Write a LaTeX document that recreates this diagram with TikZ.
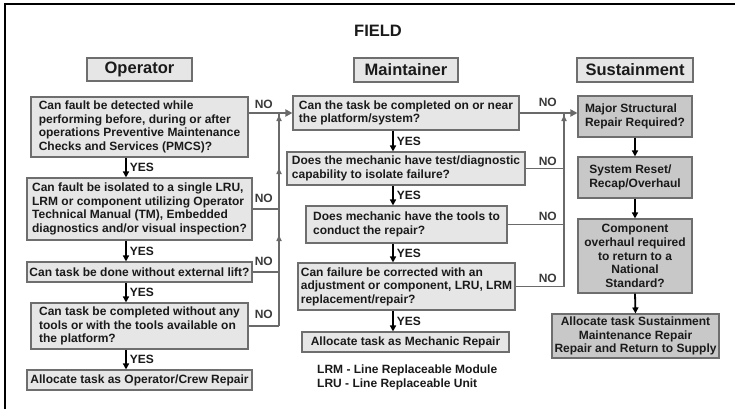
\documentclass[tikz,border=0pt]{standalone}
\usepackage{fontspec}
\setmainfont{Liberation Sans}
\usetikzlibrary{arrows.meta,decorations.markings}

\definecolor{boxline}{HTML}{6E6E6E}
\definecolor{lightfill}{HTML}{E6E6E6}
\definecolor{darkfill}{HTML}{C8C8C8}
\definecolor{wirecol}{HTML}{6A6A6A}
\definecolor{ink}{HTML}{1A1A1A}
\definecolor{noink}{HTML}{3A3A3A}

\begin{document}
\begin{tikzpicture}[x=1pt,y=-1pt,
  txt/.style={font=\fontsize{12}{13.6}\selectfont\bfseries, text=ink},
  qbox/.style={txt, draw=boxline, fill=lightfill, line width=1.1pt, inner sep=1pt, align=left},
  sbox/.style={qbox, fill=darkfill},
  hbox/.style={draw=boxline, fill=lightfill, line width=1.1pt, inner sep=0pt,
               font=\fontsize{16.5}{18}\selectfont\bfseries, text=ink},
  yes/.style={draw=black, line width=1.8pt, -{Triangle[width=6pt,length=6pt]}},
  yeslbl/.style={txt, anchor=west, inner sep=0pt, xshift=3pt},
  wire/.style={draw=wirecol, line width=1.8pt},
  wirearrow/.style={wire, -{Triangle[width=7pt,length=7pt]}},
  nolbl/.style={txt, text=noink, anchor=south east, inner sep=0pt},
  uptip/.style={postaction={decorate}, decoration={markings, #1}},
]
\useasboundingbox (0,0) rectangle (735,409);

% outer frame: top and left rules
\draw[line width=2.6pt] (5,409) -- (5,4) -- (735,4);

\node[txt, font=\fontsize{16.5}{18}\selectfont\bfseries, inner sep=0pt] (field) at (378,31) {FIELD};

% column headers
\node[hbox, minimum width=105pt, minimum height=23pt] (hop) at (139.5,69.5) {Operator};
\node[hbox, minimum width=104pt, minimum height=24pt] (hma) at (406,70) {Maintainer};
\node[hbox, minimum width=116pt, minimum height=24pt] (hsu) at (635,70) {Sustainment};

% operator column
\node[qbox, minimum width=217pt, minimum height=60pt] (o1) at (139.5,127)
  {Can fault be detected while\\performing before, during or after\\operations Preventive Maintenance\\Checks and Services (PMCS)?};
\node[qbox, minimum width=225pt, minimum height=62pt] (o2) at (139.5,209)
  {Can fault be isolated to a single LRU,\\LRM or component utilizing Operator\\Technical Manual (TM), Embedded\\diagnostics and/or visual inspection?};
\node[qbox, minimum width=225pt, minimum height=20pt] (o3) at (139.5,272)
  {Can task be done without external lift?};
\node[qbox, minimum width=217pt, minimum height=46pt] (o4) at (139.5,326)
  {Can task be completed without any\\tools or with the tools available on\\the platform?};
\node[qbox, minimum width=225pt, minimum height=20pt] (o5) at (139.5,380)
  {Allocate task as Operator/Crew Repair};

% maintainer column
\node[qbox, minimum width=226pt, minimum height=34pt] (m1) at (406,113)
  {Can the task be completed on or near\\the platform/system?};
\node[qbox, minimum width=238pt, minimum height=33pt] (m2) at (406,168.5)
  {Does the mechanic have test/diagnostic\\capability to isolate failure?};
\node[qbox, minimum width=201pt, minimum height=37pt] (m3) at (406.5,224.5)
  {Does mechanic have the tools to\\conduct the repair?};
\node[qbox, minimum width=217pt, minimum height=47pt] (m4) at (406.5,286.5)
  {Can failure be corrected with an\\adjustment or component, LRU, LRM\\replacement/repair?};
\node[qbox, minimum width=207pt, minimum height=20pt] (m5) at (405.5,342)
  {Allocate task as Mechanic Repair};
\node[txt, font=\fontsize{12}{14}\selectfont\bfseries, align=left, anchor=west, inner sep=0pt] (legend) at (317,377)
  {LRM - Line Replaceable Module\\LRU - Line Replaceable Unit};

% sustainment column
\node[sbox, minimum width=114pt, minimum height=41pt] (s1) at (635,116.5)
  {Major Structural\\Repair Required?};
\node[sbox, minimum width=114pt, minimum height=41pt] (s2) at (635,177.5)
  {System Reset/\\Recap/Overhaul};
\node[sbox, align=center, minimum width=114pt, minimum height=74pt] (s3) at (635,256)
  {Component\\overhaul required\\to return to a\\National\\Standard?};
\node[sbox, align=center, minimum width=167pt, minimum height=44pt] (s4) at (635.5,336)
  {Allocate task Sustainment\\Maintenance Repair\\Repair and Return to Supply};

% YES flow
\coordinate (ocol) at (126,0);
\coordinate (mcol) at (393,0);
\draw[yes] (o1.south -| ocol) -- node[yeslbl] (y1) {YES} (o2.north -| ocol);
\draw[yes] (o2.south -| ocol) -- node[yeslbl] (y2) {YES} (o3.north -| ocol);
\draw[yes] (o3.south -| ocol) -- node[yeslbl] (y3) {YES} (o4.north -| ocol);
\draw[yes] (o4.south -| ocol) -- node[yeslbl] (y4) {YES} (o5.north -| ocol);
\draw[yes] (m1.south -| mcol) -- node[yeslbl] (y5) {YES} (m2.north -| mcol);
\draw[yes] (m2.south -| mcol) -- node[yeslbl] (y6) {YES} (m3.north -| mcol);
\draw[yes] (m3.south -| mcol) -- node[yeslbl] (y7) {YES} (m4.north -| mcol);
\draw[yes] (m4.south -| mcol) -- node[yeslbl] (y8) {YES} (m5.north -| mcol);
\draw[yes] (s1.south) -- (s2.north);
\draw[yes] (s2.south) -- (s3.north);
\draw[yes] (s3.south) -- (s4.north);

% NO flow, operator to maintainer
\coordinate (obus) at (279,0);
\draw[wirearrow] (o1.east |- m1.west) -- (m1.west);
\draw[wire] (o2.east) -- (o2.east -| obus);
\draw[wire] (o3.east) -- (o3.east -| obus);
\draw[wire] (o4.east) -- (o4.east -| obus);
\draw[wire, uptip={mark=at position 91pt with {\arrow{Triangle[width=5pt,length=6pt]}},
                   mark=at position 158pt with {\arrow{Triangle[width=5pt,length=6pt]}},
                   mark=at position -2pt with {\arrow{Triangle[width=5pt,length=6pt]}}}]
  (o4.east -| obus) -- (m1.west -| obus);
\path (m1.west -| obus) ++(-6,-4) node[nolbl] (n1) {NO};
\path (o2.east -| obus) ++(-6,-6) node[nolbl] (n2) {NO};
\path (o3.east -| obus) ++(-6,-6) node[nolbl] (n3) {NO};
\path (o4.east -| obus) ++(-6,-7) node[nolbl] (n4) {NO};

% NO flow, maintainer to sustainment
\coordinate (mbus) at (564,0);
\draw[wirearrow] (m1.east) -- (m1.east -| s1.west);
\draw[wire] (m2.east) -- (m2.east -| mbus);
\draw[wire] (m3.east) -- (m3.east -| mbus);
\draw[wire] (m4.east) -- (m4.east -| mbus);
\draw[wire, uptip={mark=at position -2pt with {\arrow{Triangle[width=5pt,length=6pt]}}}]
  (m4.east -| mbus) -- (m1.east -| mbus);
\path (m1.east -| mbus) ++(-7,-6) node[nolbl] (n5) {NO};
\path (m2.east -| mbus) ++(-7,-3) node[nolbl] (n6) {NO};
\path (m3.east -| mbus) ++(-7,-4) node[nolbl] (n7) {NO};
\path (m4.east -| mbus) ++(-7,-4) node[nolbl] (n8) {NO};
\end{tikzpicture}
\end{document}
